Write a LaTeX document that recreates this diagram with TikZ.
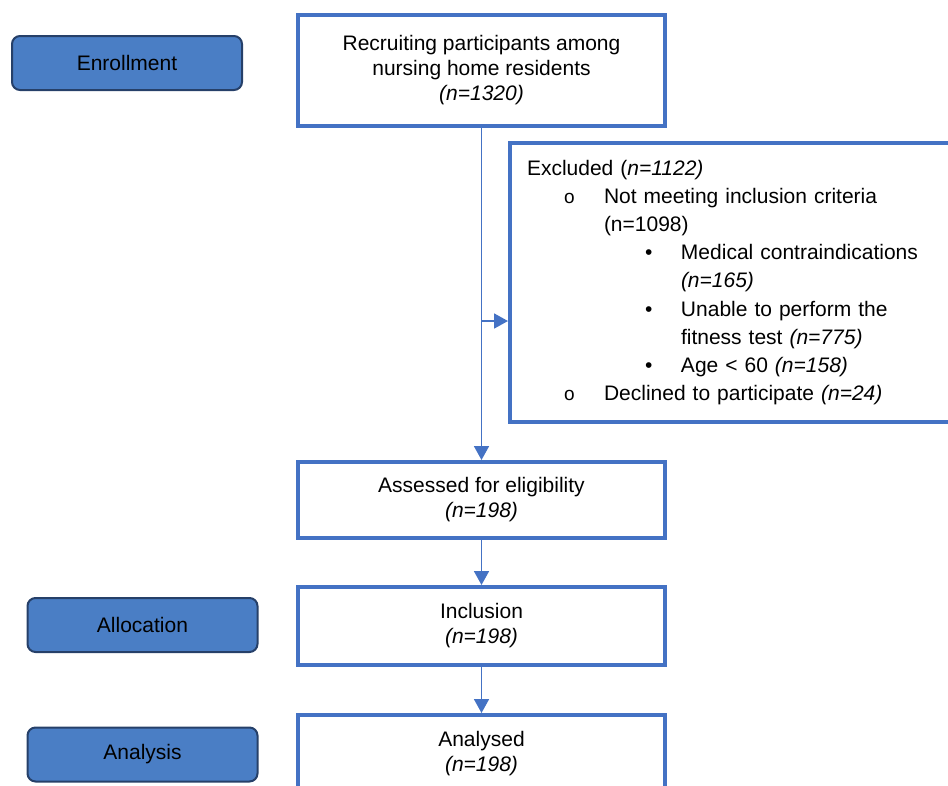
\documentclass[tikz,border=0pt]{standalone}
\usepackage{fontspec}
\setmainfont{Liberation Sans}
\usetikzlibrary{arrows.meta, positioning}
\definecolor{boxblue}{RGB}{68,114,196}
\definecolor{phasefill}{RGB}{74,126,197}
\definecolor{phaseline}{RGB}{38,64,105}
\newcommand*{\lvlone}[1]{\hspace*{37pt}\makebox[40pt][l]{\fontsize{19}{28}\selectfont o}#1}
\newcommand*{\lvltwo}[1]{\hspace*{118pt}\makebox[36pt][l]{•}#1}
\newcommand*{\lvlcont}[1]{\hspace*{#1pt}}

\begin{document}
\begin{tikzpicture}[
        x=1pt,y=-1pt,>={Triangle[width=15pt,length=14pt]},
        every node/.style={font=\fontsize{21}{25}\selectfont},
        flow/.style={draw=boxblue,line width=4pt,align=center,minimum width=367pt,inner sep=0pt},
        phase/.style={draw=phaseline,line width=2pt,fill=phasefill,rounded corners=8pt,
                      minimum width=230pt,minimum height=54pt,inner sep=0pt},
        link/.style={->,draw=boxblue,fill=boxblue,line width=1.8pt}
        ]

        \useasboundingbox (0,0) rectangle (948,785);
        \clip (0,0) rectangle (948,785);

        % phases on the left
        \node[phase] (enroll) at (127,63)    {Enrollment};
        \node[phase] (alloc)  at (142.5,625) {Allocation};
        \node[phase] (anal)   at (142.5,754.5) {Analysis};

        % main flow
        \node[flow,minimum height=111pt] (recruit) at (481.5,70.5)
                {Recruiting participants among\\nursing home residents\\\textit{(n=1320)}};
        \node[flow,minimum height=76pt]  (assess)  at (481.5,500)
                {Assessed for eligibility\\\textit{(n=198)}};
        \node[flow,minimum height=78pt]  (incl)    at (481.5,626)
                {Inclusion\\\textit{(n=198)}};
        \node[flow,minimum height=78pt,anchor=north] (analysed) at (481.5,713)
                {Analysed\\\textit{(n=198)}};

        \node[draw=boxblue,line width=4pt,anchor=north west,align=left,text width=420pt,
              inner xsep=17pt,inner ysep=0pt,minimum height=279pt,
              font=\fontsize{21}{28.2}\selectfont] (excl) at (508,141)
                {Excluded (\textit{n=1122)}\\
                 \lvlone{Not meeting inclusion criteria}\\
                 \lvlcont{77}(n=1098)\\
                 \lvltwo{Medical contraindications}\\
                 \lvlcont{154}\textit{(n=165)}\\
                 \lvltwo{Unable to perform the}\\
                 \lvlcont{154}fitness test \textit{(n=775)}\\
                 \lvltwo{Age < 60 \textit{(n=158)}}\\
                 \lvlone{Declined to participate \textit{(n=24)}}};

        \coordinate (split) at (481.5,321);

        \draw[link] (recruit) -- (assess);
        \draw[link] (split) -- (split -| excl.west);
        \draw[link] (assess) -- (incl);
        \draw[link] (incl) -- (analysed);
      \end{tikzpicture}
\end{document}
